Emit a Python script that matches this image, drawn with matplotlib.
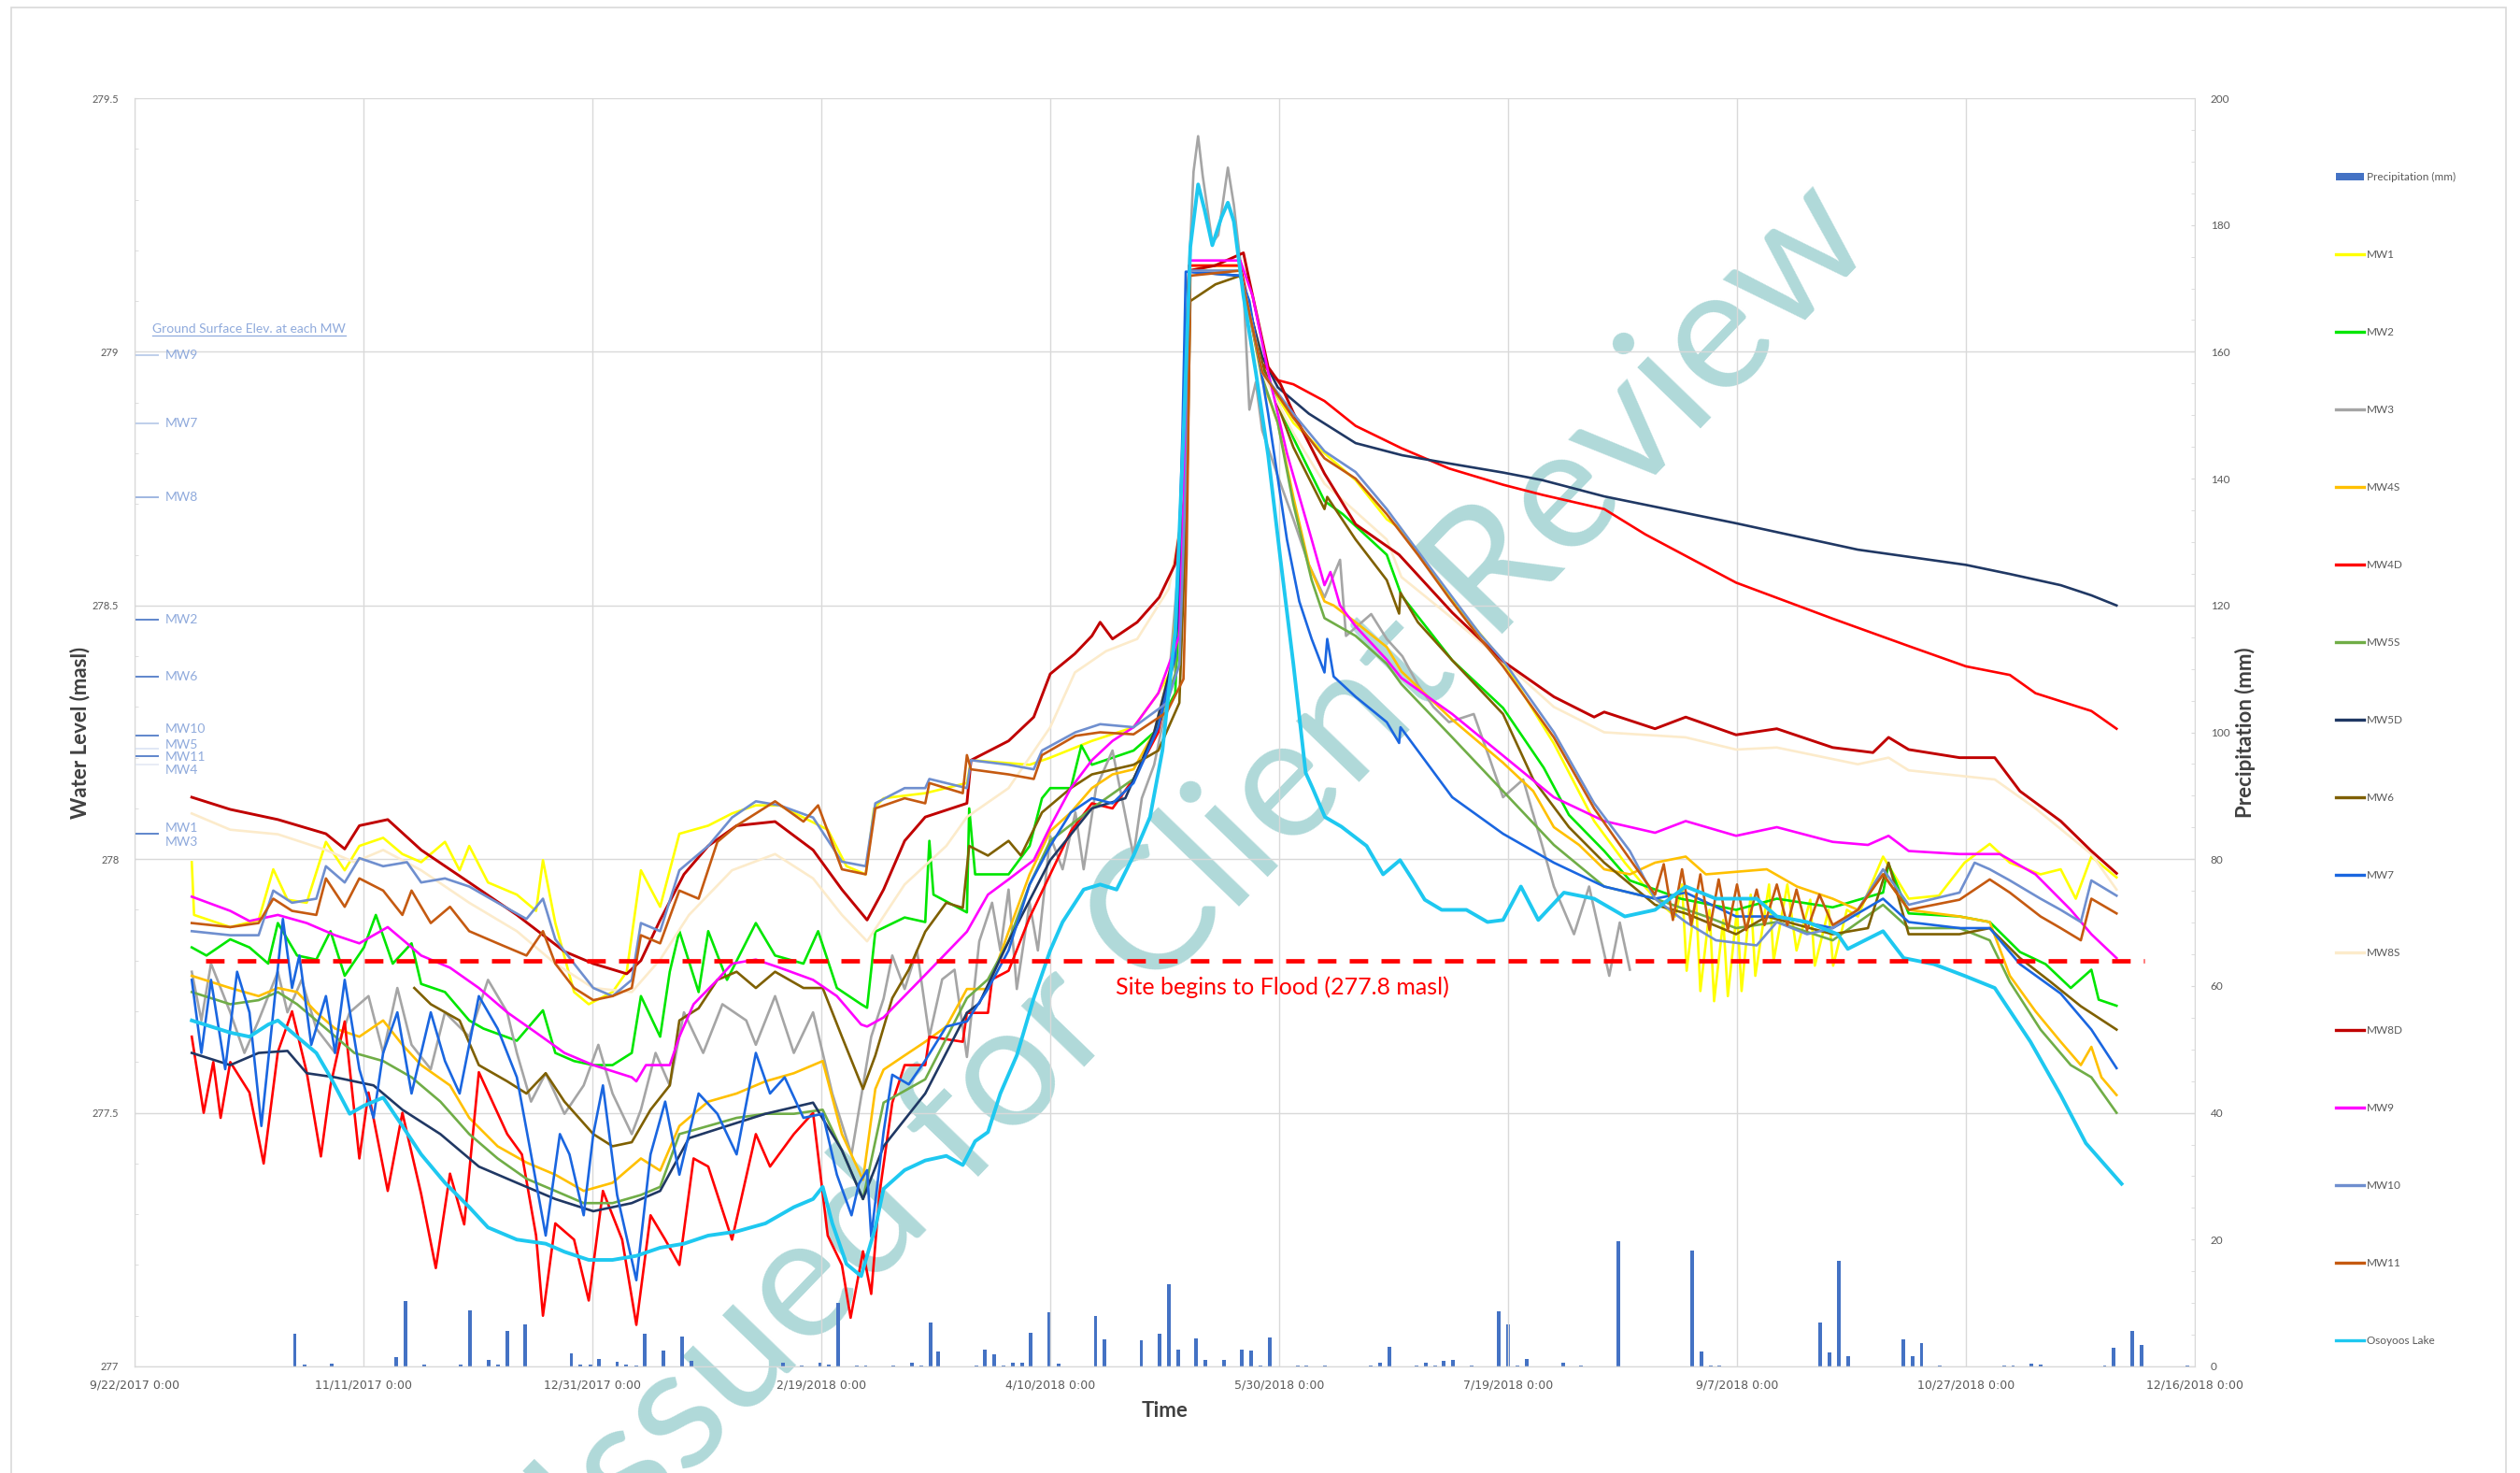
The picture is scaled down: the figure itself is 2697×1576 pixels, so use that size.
import numpy as np
import pandas as pd
import matplotlib
matplotlib.use("Agg")
import matplotlib.pyplot as plt
from matplotlib.patches import Patch, Rectangle
from matplotlib.lines import Line2D
from matplotlib.ticker import MultipleLocator, FuncFormatter

plt.rcParams["font.family"] = ["Lato", "DejaVu Sans"]

START = pd.Timestamp("2017-09-22")

# ── Data: (days since 9/22/2017, water level masl) ────────────────────────────
mw1 = [(12.5, 277.994), (13.0, 277.89), (20.9, 277.866), (27.1, 277.88), (30.3, 277.98), (33.4, 277.92),
       (37.6, 277.914), (41.8, 278.034), (45.9, 277.978), (49.1, 278.026), (54.3, 278.042), (58.5, 278.01),
       (62.6, 277.994), (67.8, 278.034), (71.0, 277.978), (73.1, 278.026), (77.2, 277.954), (83.5, 277.93),
       (87.7, 277.898), (89.2, 277.998), (91.9, 277.874), (96.0, 277.738), (99.2, 277.714), (104.4, 277.738),
       (107.5, 277.778), (110.6, 277.978), (114.8, 277.906), (119.0, 278.05), (125.3, 278.066), (130.5, 278.09),
       (135.7, 278.106), (140.9, 278.106), (146.1, 278.082), (151.4, 278.058), (155.5, 277.986), (159.7, 277.97),
       (161.5, 278.10), (163.6, 278.12), (172.7, 278.13), (181.8, 278.15), (182.7, 278.195), (195.5, 278.186),
       (200.0, 278.2), (209.1, 278.233), (218.2, 278.26), (223.6, 278.327), (228.2, 278.40), (229.6, 278.75),
       (230.3, 279.16), (236.0, 279.17), (241.5, 279.17), (246.3, 278.96), (253.1, 278.86), (259.9, 278.80),
       (266.7, 278.747), (273.5, 278.67), (276.7, 278.65), (287.8, 278.51), (298.9, 278.39), (310.0, 278.228),
       (318.8, 278.075), (325.5, 277.993), (332.1, 277.922), (336.5, 277.887), (338.0, 277.95), (339.0, 277.78),
       (341.0, 277.93), (342.0, 277.74), (344.0, 277.90), (345.0, 277.72), (347.0, 277.88), (348.0, 277.73),
       (350.0, 277.90), (351.0, 277.74), (353.0, 277.93), (354.0, 277.77), (357.0, 277.95), (358.0, 277.80),
       (361.0, 277.95), (363.0, 277.82), (366.0, 277.92), (367.0, 277.79), (370.0, 277.90), (371.0, 277.79),
       (374.0, 277.90), (376.4, 277.887), (381.9, 278.005), (387.5, 277.922), (394.1, 277.928), (399.7, 277.993),
       (405.2, 278.03), (409.6, 277.993), (416.3, 277.97), (420.7, 277.98), (424.0, 277.922), (427.4, 278.005),
       (432.9, 277.964)]

mw2 = [(12.5, 277.826), (15.7, 277.81), (20.9, 277.842), (25.1, 277.826), (29.2, 277.794), (31.3, 277.874),
       (35.5, 277.81), (39.7, 277.802), (42.8, 277.858), (45.9, 277.77), (50.1, 277.826), (52.7, 277.89),
       (56.4, 277.794), (60.5, 277.834), (62.6, 277.754), (67.8, 277.738), (73.1, 277.682), (76.2, 277.666),
       (83.5, 277.642), (89.2, 277.702), (91.9, 277.618), (96.0, 277.602), (100.2, 277.594), (104.4, 277.594),
       (108.6, 277.618), (110.6, 277.73), (114.8, 277.65), (116.9, 277.778), (119.0, 277.858), (123.2, 277.738),
       (125.3, 277.858), (129.4, 277.762), (135.7, 277.874), (139.9, 277.81), (146.1, 277.794), (149.3, 277.858),
       (153.4, 277.746), (158.7, 277.714), (160.0, 277.707), (161.8, 277.857), (168.2, 277.885), (172.7, 277.876),
       (173.6, 278.036), (174.5, 277.93), (181.8, 277.895), (182.3, 278.10), (183.6, 277.97), (190.9, 277.97),
       (195.5, 278.026), (198.2, 278.12), (200.0, 278.14), (204.5, 278.14), (206.8, 278.224), (209.1, 278.186),
       (218.2, 278.214), (222.7, 278.25), (227.3, 278.327), (229.6, 278.80), (230.3, 279.16), (241.5, 279.16),
       (246.3, 278.97), (253.1, 278.83), (259.9, 278.706), (263.9, 278.68), (273.5, 278.60), (276.7, 278.52),
       (287.8, 278.392), (298.9, 278.298), (307.8, 278.18), (313.3, 278.087), (321.0, 278.016), (326.6, 277.958),
       (337.7, 277.922), (349.8, 277.90), (358.7, 277.922), (370.9, 277.905), (381.9, 277.934), (383.1, 277.99),
       (387.5, 277.893), (398.6, 277.887), (405.2, 277.876), (411.8, 277.817), (417.4, 277.793), (422.9, 277.746),
       (427.4, 277.782), (429.0, 277.723), (432.9, 277.711)]

mw3 = [(12.5, 277.778), (14.6, 277.682), (16.7, 277.794), (20.9, 277.698), (24.0, 277.618), (27.1, 277.682),
       (31.3, 277.778), (33.4, 277.698), (36.5, 277.762), (39.7, 277.666), (43.8, 277.618), (47.0, 277.698),
       (51.1, 277.73), (54.3, 277.618), (57.4, 277.746), (60.5, 277.634), (64.7, 277.586), (67.8, 277.698),
       (73.1, 277.65), (77.2, 277.762), (81.4, 277.698), (83.5, 277.618), (86.6, 277.522), (89.8, 277.578),
       (93.9, 277.498), (98.1, 277.554), (101.3, 277.634), (104.4, 277.538), (108.6, 277.458), (110.6, 277.506),
       (113.8, 277.618), (116.9, 277.554), (120.0, 277.698), (124.2, 277.618), (128.4, 277.714), (133.6, 277.682),
       (135.7, 277.634), (139.9, 277.73), (144.0, 277.618), (148.2, 277.698), (152.4, 277.538), (156.6, 277.418),
       (160.9, 277.65), (163.6, 277.725), (165.5, 277.81), (168.2, 277.744), (170.9, 277.82), (173.6, 277.65),
       (176.4, 277.763), (179.1, 277.782), (181.8, 277.61), (184.5, 277.838), (187.3, 277.914), (189.1, 277.82),
       (190.9, 277.94), (192.7, 277.744), (195.5, 277.914), (197.3, 277.82), (200.0, 278.045), (202.7, 277.98),
       (205.5, 278.092), (207.3, 277.98), (210.0, 278.14), (213.6, 278.214), (217.3, 278.045), (218.2, 278.007),
       (220.0, 278.12), (222.7, 278.186), (225.5, 278.308), (228.2, 278.6), (230.0, 279.1), (231.3, 279.355),
       (232.3, 279.425), (233.3, 279.347), (235.4, 279.215), (236.7, 279.23), (238.8, 279.363), (240.1, 279.29),
       (242.2, 279.125), (243.5, 278.886), (244.9, 278.94), (246.3, 278.845), (249.7, 278.755), (253.1, 278.67),
       (256.5, 278.58), (259.9, 278.516), (263.3, 278.59), (264.6, 278.44), (270.1, 278.483), (273.5, 278.434),
       (276.9, 278.4), (280.3, 278.344), (283.7, 278.3), (287.1, 278.27), (292.5, 278.286), (295.9, 278.2),
       (298.9, 278.122), (303.3, 278.157), (307.8, 278.016), (310.0, 277.946), (314.4, 277.852), (317.7, 277.946),
       (322.1, 277.77), (324.4, 277.875), (326.6, 277.782)]

mw4s = [(12.5, 277.77), (20.9, 277.746), (27.1, 277.73), (31.3, 277.746), (35.5, 277.738), (39.7, 277.698),
        (43.8, 277.666), (49.1, 277.65), (54.3, 277.682), (58.5, 277.634), (62.6, 277.594), (68.9, 277.554),
        (73.1, 277.49), (79.3, 277.434), (85.6, 277.402), (91.9, 277.378), (98.1, 277.346), (104.4, 277.362),
        (110.6, 277.41), (114.8, 277.386), (119.0, 277.474), (125.3, 277.522), (131.5, 277.538), (137.8, 277.562),
        (144.0, 277.578), (150.3, 277.602), (154.5, 277.458), (159.1, 277.368), (161.8, 277.547), (163.6, 277.585),
        (168.2, 277.613), (172.7, 277.64), (177.3, 277.67), (181.8, 277.744), (186.4, 277.744), (190.9, 277.857),
        (195.5, 277.97), (200.0, 278.055), (204.5, 278.092), (209.1, 278.14), (213.6, 278.167), (218.2, 278.177),
        (222.7, 278.25), (226.4, 278.383), (228.5, 278.6), (229.8, 279.0), (230.5, 279.17), (241.5, 279.17),
        (246.3, 278.944), (249.7, 278.86), (253.1, 278.714), (256.5, 278.58), (259.9, 278.508), (261.9, 278.5),
        (266.7, 278.467), (273.5, 278.418), (276.7, 278.37), (287.8, 278.275), (298.9, 278.19), (305.5, 278.134),
        (310.0, 278.063), (315.5, 278.028), (321.0, 277.98), (326.6, 277.97), (332.1, 277.993), (338.8, 278.005),
        (343.2, 277.97), (349.8, 277.975), (356.5, 277.98), (363.1, 277.946), (370.9, 277.922), (376.4, 277.9),
        (381.9, 277.97), (387.5, 277.9), (398.6, 277.887), (405.2, 277.876), (409.6, 277.77), (415.2, 277.7),
        (420.7, 277.64), (425.1, 277.594), (427.4, 277.63), (429.6, 277.57), (432.9, 277.535)]

mw4d = [(12.5, 277.65), (15.1, 277.5), (17.2, 277.6), (18.8, 277.49), (20.9, 277.6), (25.1, 277.54),
        (28.2, 277.4), (31.3, 277.62), (34.4, 277.7), (37.6, 277.58), (40.7, 277.414), (42.8, 277.554),
        (45.9, 277.68), (49.1, 277.41), (51.1, 277.54), (55.3, 277.346), (58.5, 277.5), (62.6, 277.34),
        (65.8, 277.194), (68.9, 277.38), (72.0, 277.28), (75.2, 277.58), (81.4, 277.458), (84.6, 277.418),
        (87.7, 277.258), (89.2, 277.1), (91.9, 277.282), (96.0, 277.25), (99.2, 277.13), (102.3, 277.346),
        (106.5, 277.25), (109.6, 277.082), (112.7, 277.298), (115.9, 277.25), (119.0, 277.2), (122.1, 277.41),
        (125.3, 277.394), (130.5, 277.25), (135.7, 277.458), (138.8, 277.394), (144.0, 277.458), (148.2, 277.5),
        (151.4, 277.258), (154.5, 277.2), (156.4, 277.096), (159.1, 277.227), (160.9, 277.143), (162.7, 277.34),
        (165.5, 277.52), (168.2, 277.594), (172.7, 277.594), (173.6, 277.65), (180.9, 277.64), (181.8, 277.697),
        (186.4, 277.697), (187.3, 277.763), (190.9, 277.78), (195.5, 277.885), (200.0, 277.97), (204.5, 278.055),
        (209.1, 278.11), (213.6, 278.1), (218.2, 278.158), (223.6, 278.25), (227.3, 278.42), (229.3, 278.9),
        (230.3, 279.17), (241.5, 279.17), (246.3, 278.977), (249.7, 278.944), (253.1, 278.936), (259.9, 278.903),
        (266.7, 278.854), (276.7, 278.81), (287.1, 278.77), (298.9, 278.738), (307.5, 278.718), (321.0, 278.69),
        (330.0, 278.64), (349.8, 278.545), (370.9, 278.474), (387.5, 278.42), (400.0, 278.38), (409.6, 278.363),
        (415.2, 278.327), (427.4, 278.292), (432.9, 278.257)]

mw5s = [(12.5, 277.738), (20.9, 277.714), (27.1, 277.722), (31.3, 277.738), (35.5, 277.714), (41.8, 277.666),
        (48.0, 277.618), (54.3, 277.602), (60.5, 277.57), (66.8, 277.522), (73.1, 277.458), (79.3, 277.41),
        (85.6, 277.37), (91.9, 277.346), (98.1, 277.322), (104.4, 277.322), (110.6, 277.338), (114.8, 277.354),
        (119.0, 277.458), (125.3, 277.474), (131.5, 277.49), (137.8, 277.498), (144.0, 277.498), (150.3, 277.506),
        (154.5, 277.426), (159.1, 277.33), (163.6, 277.52), (172.7, 277.566), (181.8, 277.726), (186.4, 277.763),
        (190.9, 277.838), (195.5, 277.95), (200.0, 278.036), (209.1, 278.1), (218.2, 278.158), (222.7, 278.243),
        (227.3, 278.365), (229.3, 278.8), (230.3, 279.16), (241.5, 279.16), (246.3, 278.95), (249.7, 278.86),
        (253.1, 278.70), (257.1, 278.55), (259.9, 278.475), (266.7, 278.44), (273.5, 278.385), (276.7, 278.345),
        (287.8, 278.24), (298.9, 278.134), (310.0, 278.028), (321.0, 277.946), (332.1, 277.922), (343.2, 277.887),
        (349.8, 277.864), (358.7, 277.876), (370.9, 277.84), (381.9, 277.91), (387.5, 277.864), (398.6, 277.864),
        (405.2, 277.84), (409.6, 277.758), (416.3, 277.664), (422.9, 277.594), (427.4, 277.57), (432.9, 277.5)]

mw5d = [(12.5, 277.618), (20.9, 277.594), (27.1, 277.618), (33.4, 277.622), (37.6, 277.578), (43.8, 277.57),
        (52.2, 277.554), (58.5, 277.506), (66.8, 277.458), (75.2, 277.394), (83.5, 277.362), (91.9, 277.33),
        (100.2, 277.306), (108.6, 277.322), (114.8, 277.346), (121.1, 277.45), (129.4, 277.474), (137.8, 277.498),
        (148.2, 277.52), (154.5, 277.426), (159.1, 277.33), (163.6, 277.434), (172.7, 277.538), (181.8, 277.697),
        (184.5, 277.716), (190.9, 277.838), (200.0, 277.998), (209.1, 278.1), (216.4, 278.12), (222.7, 278.25),
        (226.4, 278.38), (227.9, 278.467), (229.3, 278.878), (230.3, 279.158), (241.5, 279.15), (246.3, 278.99),
        (249.7, 278.93), (256.5, 278.878), (266.7, 278.82), (276.9, 278.796), (287.1, 278.78), (298.9, 278.762),
        (307.5, 278.747), (321.0, 278.715), (349.8, 278.662), (376.4, 278.61), (400.0, 278.58), (409.6, 278.562),
        (420.7, 278.54), (427.4, 278.52), (432.9, 278.5)]

mw6 = [(61.1, 277.746), (64.7, 277.714), (71.0, 277.682), (75.2, 277.594), (81.4, 277.562), (85.6, 277.538),
       (89.8, 277.578), (93.9, 277.522), (100.2, 277.458), (104.4, 277.434), (108.6, 277.442), (112.7, 277.506),
       (116.9, 277.554), (119.0, 277.682), (123.2, 277.706), (127.3, 277.762), (131.5, 277.778), (135.7, 277.746),
       (139.9, 277.778), (146.1, 277.746), (150.3, 277.746), (154.5, 277.65), (159.1, 277.547), (161.8, 277.613),
       (165.5, 277.726), (169.1, 277.782), (172.7, 277.857), (177.3, 277.914), (180.9, 277.904), (182.3, 278.026),
       (186.4, 278.007), (190.9, 278.036), (193.6, 278.007), (198.2, 278.092), (204.5, 278.14), (209.1, 278.167),
       (218.2, 278.186), (223.6, 278.214), (228.2, 278.308), (229.8, 278.7), (230.6, 279.1), (236.1, 279.133),
       (241.5, 279.15), (246.3, 278.977), (249.7, 278.895), (253.1, 278.812), (259.9, 278.69), (260.5, 278.714),
       (266.7, 278.63), (273.5, 278.55), (276.2, 278.484), (276.5, 278.525), (280.3, 278.467), (287.8, 278.392),
       (298.9, 278.286), (305.5, 278.157), (313.3, 278.063), (321.0, 277.993), (332.1, 277.91), (338.8, 277.893),
       (349.8, 277.852), (356.5, 277.887), (370.9, 277.852), (378.6, 277.864), (383.1, 277.993), (387.5, 277.852),
       (398.6, 277.852), (405.2, 277.864), (411.8, 277.805), (418.5, 277.758), (425.1, 277.71), (432.9, 277.664)]

mw7 = [(12.5, 277.762), (14.6, 277.618), (16.7, 277.762), (19.8, 277.586), (22.4, 277.778), (25.1, 277.698),
       (27.7, 277.474), (30.3, 277.698), (32.4, 277.882), (34.4, 277.746), (36.0, 277.81), (38.6, 277.634),
       (41.8, 277.73), (43.8, 277.618), (45.9, 277.762), (49.1, 277.586), (52.2, 277.49), (54.3, 277.618),
       (57.4, 277.698), (60.5, 277.538), (64.7, 277.698), (67.8, 277.602), (71.0, 277.538), (75.2, 277.73),
       (79.3, 277.666), (83.5, 277.57), (86.6, 277.418), (89.8, 277.258), (92.9, 277.458), (95.0, 277.418),
       (98.1, 277.298), (100.2, 277.458), (102.3, 277.554), (105.4, 277.338), (109.6, 277.17), (112.7, 277.418),
       (115.9, 277.522), (119.0, 277.378), (123.2, 277.538), (127.3, 277.498), (131.5, 277.418), (135.7, 277.618),
       (138.8, 277.538), (142.0, 277.57), (146.1, 277.49), (150.3, 277.498), (153.4, 277.378), (156.6, 277.298),
       (158.2, 277.36), (160.0, 277.387), (160.9, 277.256), (163.6, 277.462), (165.5, 277.575), (169.1, 277.556),
       (172.7, 277.603), (177.3, 277.67), (181.8, 277.68), (186.4, 277.744), (190.9, 277.82), (195.5, 277.95),
       (200.0, 278.026), (204.5, 278.092), (209.1, 278.12), (213.6, 278.11), (218.2, 278.15), (223.6, 278.26),
       (227.3, 278.4), (227.9, 278.533), (228.9, 278.85), (229.6, 279.158), (241.5, 279.15), (243.5, 279.1),
       (247.6, 278.878), (251.7, 278.63), (254.4, 278.508), (257.1, 278.434), (259.9, 278.368), (260.5, 278.434),
       (261.9, 278.36), (266.7, 278.32), (273.5, 278.27), (276.2, 278.229), (276.5, 278.26), (287.8, 278.122),
       (298.9, 278.05), (310.0, 277.993), (321.0, 277.946), (332.1, 277.922), (338.8, 277.934), (349.8, 277.887),
       (358.7, 277.887), (370.9, 277.864), (381.9, 277.922), (387.5, 277.876), (398.6, 277.864), (405.2, 277.864),
       (411.8, 277.793), (420.7, 277.735), (427.4, 277.664), (432.9, 277.588)]

mw8s = [(12.5, 278.09), (20.9, 278.058), (31.3, 278.049), (41.8, 278.018), (48.0, 277.994), (54.3, 278.018),
        (62.6, 277.978), (73.1, 277.914), (83.5, 277.858), (91.9, 277.794), (100.2, 277.746), (108.6, 277.738),
        (114.8, 277.802), (121.1, 277.89), (130.5, 277.978), (139.9, 278.01), (148.2, 277.962), (154.5, 277.89),
        (160.0, 277.838), (168.2, 277.95), (177.3, 278.026), (181.8, 278.083), (190.9, 278.14), (200.0, 278.26),
        (205.4, 278.368), (212.2, 278.41), (219.0, 278.434), (225.9, 278.533), (228.6, 278.67), (229.8, 279.0),
        (230.6, 279.16), (241.5, 279.16), (246.3, 278.96), (253.1, 278.84), (259.9, 278.74), (273.5, 278.63),
        (276.7, 278.556), (287.1, 278.48), (298.9, 278.39), (310.0, 278.3), (321.0, 278.25), (338.8, 278.24),
        (349.8, 278.216), (358.7, 278.22), (376.4, 278.187), (383.1, 278.2), (387.5, 278.175), (406.3, 278.157),
        (415.2, 278.1), (427.4, 278.01), (432.9, 277.94)]

mw8d = [(12.5, 278.122), (20.9, 278.098), (31.3, 278.078), (41.8, 278.05), (45.9, 278.02), (49.1, 278.066),
        (55.3, 278.078), (62.6, 278.018), (73.1, 277.954), (83.5, 277.89), (93.9, 277.818), (100.2, 277.794),
        (107.5, 277.774), (110.6, 277.8), (114.8, 277.88), (120.0, 277.97), (125.3, 278.026), (131.5, 278.066),
        (139.9, 278.074), (148.2, 278.018), (154.5, 277.94), (160.0, 277.88), (163.6, 277.94), (168.2, 278.036),
        (172.7, 278.083), (181.8, 278.11), (182.7, 278.195), (190.9, 278.233), (196.4, 278.28), (200.0, 278.365),
        (205.4, 278.405), (209.1, 278.44), (210.9, 278.467), (213.6, 278.434), (219.0, 278.467), (223.8, 278.516),
        (227.2, 278.58), (229.3, 278.71), (230.3, 279.16), (236.0, 279.17), (242.2, 279.195), (243.5, 279.14),
        (247.6, 278.97), (250.3, 278.936), (253.1, 278.88), (259.9, 278.76), (266.7, 278.66), (276.2, 278.6),
        (287.8, 278.486), (298.9, 278.39), (310.0, 278.32), (318.8, 278.28), (321.0, 278.29), (332.1, 278.257),
        (338.8, 278.28), (349.8, 278.245), (358.7, 278.257), (370.9, 278.22), (379.7, 278.21), (383.1, 278.24),
        (387.5, 278.216), (398.6, 278.2), (406.3, 278.2), (411.8, 278.134), (420.7, 278.075), (427.4, 278.016),
        (432.9, 277.972)]

mw9 = [(12.5, 277.926), (20.9, 277.898), (25.1, 277.878), (31.3, 277.89), (37.6, 277.874), (43.8, 277.85),
       (49.1, 277.834), (55.3, 277.866), (59.5, 277.834), (62.6, 277.81), (68.9, 277.786), (75.2, 277.746),
       (81.4, 277.698), (87.7, 277.658), (93.9, 277.618), (100.2, 277.594), (108.6, 277.57), (109.6, 277.562),
       (111.7, 277.594), (116.9, 277.594), (119.0, 277.65), (122.1, 277.714), (127.3, 277.762), (130.5, 277.794),
       (135.7, 277.802), (140.9, 277.786), (148.2, 277.762), (153.4, 277.73), (158.7, 277.674), (160.0, 277.67),
       (163.6, 277.688), (172.7, 277.772), (181.8, 277.857), (186.4, 277.93), (190.9, 277.96), (196.4, 277.998),
       (200.0, 278.064), (204.5, 278.14), (209.1, 278.195), (213.6, 278.233), (218.2, 278.26), (223.6, 278.327),
       (228.2, 278.44), (229.8, 278.9), (230.5, 279.18), (241.5, 279.18), (244.2, 279.11), (247.6, 278.96),
       (251.7, 278.8), (257.1, 278.63), (259.9, 278.54), (261.2, 278.566), (263.3, 278.5), (266.7, 278.459),
       (273.5, 278.393), (276.7, 278.357), (287.8, 278.286), (298.9, 278.204), (310.0, 278.122), (321.0, 278.075),
       (332.1, 278.052), (338.8, 278.075), (349.8, 278.046), (358.7, 278.063), (370.9, 278.034), (378.6, 278.028),
       (383.1, 278.046), (387.5, 278.016), (398.6, 278.01), (407.4, 278.01), (415.2, 277.97), (422.9, 277.9),
       (427.4, 277.852), (432.9, 277.805)]

mw10 = [(12.5, 277.858), (20.9, 277.85), (27.1, 277.85), (30.3, 277.938), (34.4, 277.914), (39.7, 277.922),
        (41.8, 277.986), (45.9, 277.954), (49.1, 278.002), (54.3, 277.986), (59.5, 277.994), (62.6, 277.954),
        (67.8, 277.962), (73.1, 277.946), (79.3, 277.914), (85.6, 277.882), (89.2, 277.922), (91.9, 277.842),
        (96.0, 277.794), (100.2, 277.746), (104.4, 277.73), (108.6, 277.762), (110.6, 277.874), (114.8, 277.858),
        (119.0, 277.978), (125.3, 278.026), (130.5, 278.082), (135.7, 278.114), (140.9, 278.106), (148.2, 278.082),
        (154.5, 277.995), (159.7, 277.986), (161.8, 278.11), (168.2, 278.14), (172.7, 278.14), (173.6, 278.158),
        (181.8, 278.14), (182.7, 278.195), (190.9, 278.186), (196.4, 278.177), (198.2, 278.214), (205.5, 278.25),
        (210.9, 278.266), (218.2, 278.26), (225.5, 278.308), (228.2, 278.383), (229.8, 278.8), (230.6, 279.16),
        (241.5, 279.16), (246.3, 278.96), (253.1, 278.878), (259.9, 278.804), (266.7, 278.763), (273.5, 278.69),
        (280.3, 278.607), (287.1, 278.525), (293.9, 278.443), (298.9, 278.392), (310.0, 278.25), (318.8, 278.11),
        (326.6, 278.016), (332.1, 277.922), (338.8, 277.876), (345.4, 277.84), (354.3, 277.83), (358.7, 277.876),
        (365.3, 277.852), (370.9, 277.864), (376.4, 277.9), (381.9, 277.98), (387.5, 277.91), (398.6, 277.934),
        (401.9, 277.993), (405.2, 277.98), (409.6, 277.958), (416.3, 277.922), (420.7, 277.9), (425.1, 277.876),
        (427.4, 277.958), (432.9, 277.928)]

mw11 = [(12.5, 277.874), (20.9, 277.866), (27.1, 277.874), (30.3, 277.922), (34.4, 277.898), (39.7, 277.89),
        (41.8, 277.962), (45.9, 277.906), (49.1, 277.962), (54.3, 277.938), (58.5, 277.89), (60.5, 277.938),
        (64.7, 277.874), (68.9, 277.906), (73.1, 277.858), (79.3, 277.834), (85.6, 277.81), (89.2, 277.858),
        (91.9, 277.794), (96.0, 277.746), (100.2, 277.722), (104.4, 277.73), (108.6, 277.746), (110.6, 277.85),
        (114.8, 277.834), (119.0, 277.938), (123.2, 277.922), (127.3, 278.034), (131.5, 278.066), (135.7, 278.09),
        (139.9, 278.114), (146.1, 278.074), (149.3, 278.106), (154.5, 277.98), (159.7, 277.97), (161.8, 278.1),
        (168.2, 278.12), (172.7, 278.11), (173.6, 278.15), (180.9, 278.13), (181.8, 278.205), (182.7, 278.177),
        (190.9, 278.167), (196.4, 278.158), (198.2, 278.205), (205.5, 278.243), (210.9, 278.25), (218.2, 278.246),
        (225.5, 278.29), (229.1, 278.355), (229.8, 278.6), (230.6, 279.15), (241.5, 279.16), (246.3, 278.96),
        (253.1, 278.87), (259.9, 278.79), (266.7, 278.75), (273.5, 278.68), (280.3, 278.6), (287.1, 278.515),
        (293.9, 278.435), (298.9, 278.38), (310.0, 278.24), (318.8, 278.1), (326.6, 278.0), (332.1, 277.93),
        (334.0, 277.99), (336.0, 277.88), (338.0, 277.98), (340.0, 277.87), (342.0, 277.97), (344.0, 277.86),
        (346.0, 277.96), (348.0, 277.86), (350.0, 277.95), (352.0, 277.86), (354.3, 277.94), (356.0, 277.87),
        (358.7, 277.95), (361.0, 277.87), (363.0, 277.94), (365.3, 277.86), (368.0, 277.93), (370.9, 277.87),
        (376.4, 277.9), (381.9, 277.97), (387.5, 277.9), (398.6, 277.92), (405.2, 277.96), (409.6, 277.934),
        (416.3, 277.887), (420.7, 277.864), (425.1, 277.84), (427.4, 277.922), (432.9, 277.893)]

lake = [(12.5, 277.682), (20.9, 277.658), (25.1, 277.65), (29.2, 277.674), (31.3, 277.682), (35.5, 277.65),
        (39.7, 277.618), (42.8, 277.57), (47.0, 277.498), (50.1, 277.514), (54.3, 277.53), (58.5, 277.474),
        (62.6, 277.418), (67.8, 277.362), (73.1, 277.314), (77.2, 277.274), (83.5, 277.25), (89.8, 277.242),
        (93.9, 277.226), (99.2, 277.21), (104.4, 277.21), (109.6, 277.218), (114.8, 277.234), (120.0, 277.242),
        (125.3, 277.258), (131.5, 277.266), (137.8, 277.282), (144.0, 277.314), (148.2, 277.33), (150.3, 277.354),
        (152.4, 277.282), (155.5, 277.202), (158.7, 277.178), (161.8, 277.274), (163.6, 277.35), (168.2, 277.387),
        (172.7, 277.406), (177.3, 277.415), (180.9, 277.397), (183.6, 277.444), (186.4, 277.462), (189.1, 277.538),
        (192.7, 277.613), (196.4, 277.726), (200.0, 277.82), (202.7, 277.876), (207.3, 277.94), (210.9, 277.95),
        (214.5, 277.94), (218.2, 278.007), (221.8, 278.083), (224.5, 278.214), (227.3, 278.45), (229.3, 278.878),
        (230.6, 279.207), (232.3, 279.33), (233.7, 279.28), (235.4, 279.21), (237.4, 279.265), (238.8, 279.294),
        (240.1, 279.257), (242.2, 279.11), (244.9, 278.96), (247.6, 278.796), (250.3, 278.59), (253.1, 278.385),
        (255.8, 278.17), (257.3, 278.14), (260.0, 278.083), (263.6, 278.064), (269.1, 278.026), (272.7, 277.97),
        (276.4, 277.998), (279.1, 277.96), (281.8, 277.92), (285.5, 277.9), (290.9, 277.9), (295.5, 277.876),
        (298.9, 277.88), (302.8, 277.946), (306.6, 277.88), (312.2, 277.934), (318.8, 277.922), (325.5, 277.887),
        (332.1, 277.9), (338.8, 277.946), (345.4, 277.922), (354.3, 277.922), (358.7, 277.887), (365.3, 277.876),
        (372.0, 277.852), (374.2, 277.823), (381.9, 277.858), (386.4, 277.805), (393.0, 277.793), (399.7, 277.77),
        (406.3, 277.746), (414.1, 277.64), (420.7, 277.535), (426.2, 277.44), (434.0, 277.36)]

# precipitation (days since 9/22/2017, mm)
precip_day = [35.0, 37.1, 43.1, 57.2, 59.2, 63.3, 71.2, 73.3, 77.3, 79.4, 81.4, 85.3, 95.4, 97.4, 99.5,
              101.4, 105.4, 107.4, 109.5, 111.4, 115.5, 119.5, 121.6, 141.6, 145.7, 149.7, 151.7, 153.7,
              157.7, 159.7, 165.7, 169.8, 171.8, 173.9, 175.6, 183.8, 185.8, 187.8, 189.8, 191.8, 193.8,
              195.8, 199.8, 201.9, 209.9, 211.9, 219.9, 223.9, 225.9, 227.9, 231.9, 233.9, 237.9, 241.9,
              243.9, 245.9, 248.0, 254.0, 256.0, 260.0, 270.0, 272.0, 274.0, 280.0, 282.0, 284.0, 286.0,
              288.0, 292.0, 298.0, 300.0, 302.0, 304.0, 312.0, 316.0, 324.1, 340.2, 342.2, 344.2, 346.2,
              368.2, 370.2, 372.2, 374.2, 386.3, 388.3, 390.3, 394.3, 408.3, 410.3, 414.3, 416.3, 430.3,
              432.3, 436.4, 438.4, 448.4]
precip_mm = [5.1, 0.3, 0.5, 1.5, 10.3, 0.3, 0.3, 8.9, 1.0, 0.3, 5.6, 6.7, 2.1, 0.3, 0.3,
             1.2, 0.7, 0.35, 0.2, 5.1, 2.5, 4.7, 0.9, 0.6, 0.2, 0.6, 0.3, 10.0,
             0.2, 0.2, 0.2, 0.6, 0.2, 7.0, 2.4, 0.2, 2.7, 1.9, 0.2, 0.6, 0.6,
             5.3, 8.6, 0.4, 8.0, 4.3, 4.2, 5.2, 12.9, 2.6, 4.4, 1.0, 1.1, 2.7,
             2.5, 0.2, 4.5, 0.2, 0.2, 0.2, 0.2, 0.6, 3.1, 0.2, 0.6, 0.2, 0.9,
             1.0, 0.2, 8.7, 6.7, 0.2, 1.2, 0.6, 0.2, 19.8, 18.3, 2.4, 0.2, 0.2,
             7.0, 2.2, 16.7, 1.6, 4.3, 1.6, 3.7, 0.2, 0.2, 0.2, 0.4, 0.3, 0.2,
             2.9, 5.6, 3.4, 0.2]

# ground surface elevation at each monitoring well (masl)
gs_names = ["MW9", "MW7", "MW8", "MW2", "MW6", "MW10", "MW5", "MW11", "MW4", "MW1"]
gs_elev = [278.993, 278.858, 278.713, 278.472, 278.36, 278.244, 278.218, 278.203, 278.187, 278.05]
gs_label_y = [278.993, 278.858, 278.713, 278.472, 278.36, 278.256, 278.226, 278.201, 278.176, 278.062]
gs_colors = ["#B4C7E7", "#B4C7E7", "#8FAADC", "#4472C4", "#4472C4", "#4472C4", "#DAE3F3", "#4472C4",
             "#E4E9F4", "#4472C4"]

FLOOD_LEVEL = 277.8
flood_days = [15.5, 439.0]

series = [
    ("MW1", mw1, "#FFFF00", 1.9),
    ("MW2", mw2, "#00E600", 1.9),
    ("MW3", mw3, "#A5A5A5", 1.9),
    ("MW4S", mw4s, "#FFC000", 1.9),
    ("MW4D", mw4d, "#FF0000", 1.9),
    ("MW5S", mw5s, "#70AD47", 1.9),
    ("MW5D", mw5d, "#203864", 1.9),
    ("MW6", mw6, "#7F6000", 1.9),
    ("MW7", mw7, "#1A66E0", 1.9),
    ("MW8S", mw8s, "#FCEBCB", 1.9),
    ("MW8D", mw8d, "#C00000", 2.1),
    ("MW9", mw9, "#FF00FF", 1.9),
    ("MW10", mw10, "#6F8FCF", 1.9),
    ("MW11", mw11, "#C55A11", 1.9),
    ("Osoyoos Lake", lake, "#1EC8F0", 2.8),
]

# ── Figure ────────────────────────────────────────────────────────────────────
W, H = 2697, 1576
fig = plt.figure(figsize=(W / 100, H / 100), dpi=100)
ax = fig.add_axes([144 / W, 1 - 1462 / H, (2349 - 144) / W, (1462 - 105) / H])
ax2 = ax.twinx()
ax.set_zorder(ax2.get_zorder() + 1)
ax.patch.set_visible(False)
ax2.patch.set_visible(False)

# outer chart frame
fig.add_artist(Rectangle((12 / W, -0.01), (2682 - 12) / W, 1.0 - 8 / H + 0.01, transform=fig.transFigure,
                         fill=False, edgecolor="#D9D9D9", lw=1.2))

# watermark behind the data
fig.text(0.478, 0.408, "Issued for Client Review", rotation=46, fontsize=133, color="#B0D9D9",
         ha="center", va="center", rotation_mode="anchor", zorder=-1)

# precipitation on the secondary axis
ax2.bar(precip_day, precip_mm, width=0.8, color="#4472C4", zorder=2)

for name, data, color, lw in series:
    arr = np.array(data)
    ax.plot(arr[:, 0], arr[:, 1], color=color, lw=lw, label=name, solid_joinstyle="round")

# flood level
ax.plot(flood_days, [FLOOD_LEVEL, FLOOD_LEVEL], color="#FF0000", lw=3.4, dashes=(4.2, 3.0))
ax.text(250.6, FLOOD_LEVEL - 0.052, "Site begins to Flood (277.8 masl)", color="#FF0000",
        fontsize=18, ha="center", va="center")

# ground surface markers
for name, elev, ly, c in zip(gs_names, gs_elev, gs_label_y, gs_colors):
    ax.plot([0, 5.3], [elev, elev], color=c, lw=1.2, solid_capstyle="butt")
    ax.text(6.6, ly, name, color="#8FAADC", fontsize=10, va="center", ha="left")
ax.text(6.6, 278.033, "MW3", color="#8FAADC", fontsize=10, va="center", ha="left")
gs_title = ax.text(3.9, 279.045, "Ground Surface Elev. at each MW", color="#8FAADC", fontsize=10,
                   va="center", ha="left")

# axes
ax.set_xlim(0, 450)
ax.set_ylim(277, 279.5)
ax2.set_ylim(0, 200)
ax.xaxis.set_major_locator(MultipleLocator(50))
ax.xaxis.set_major_formatter(FuncFormatter(
    lambda v, p: (lambda d: f"{d.month}/{d.day}/{d.year} 0:00")(START + pd.Timedelta(days=float(v)))))
ax.yaxis.set_major_locator(MultipleLocator(0.5))
ax.yaxis.set_minor_locator(MultipleLocator(0.1))
ax.yaxis.set_major_formatter(FuncFormatter(lambda v, p: f"{v:g}"))
ax2.yaxis.set_major_locator(MultipleLocator(20))
ax2.yaxis.set_minor_locator(MultipleLocator(5))

ax.grid(True, which="major", color="#D9D9D9", lw=1.0)
ax.tick_params(axis="x", length=0, pad=10, labelcolor="#595959")
for lbl in ax.get_xticklabels():
    lbl.set_fontfamily(["Liberation Sans Narrow", "DejaVu Sans"])
    lbl.set_fontsize(9)
ax.tick_params(axis="y", which="both", direction="in", length=3, color="#D9D9D9", labelsize=8,
               labelcolor="#595959", pad=12)
ax2.tick_params(axis="y", which="both", direction="in", length=3, color="#D9D9D9", labelsize=8.5,
                labelcolor="#595959", pad=12)

for a in (ax, ax2):
    for s in a.spines.values():
        s.set_color("#D9D9D9")
ax.spines["top"].set_visible(False)
ax2.spines["top"].set_visible(False)
ax.spines["right"].set_visible(False)

ax.set_ylabel("Water Level (masl)", fontsize=16, fontweight="bold", color="#404040", labelpad=2)
ax2.set_ylabel("Precipitation (mm)", fontsize=16, fontweight="bold", color="#404040", labelpad=4)
ax.set_xlabel("Time", fontsize=16, fontweight="bold", color="#404040", labelpad=7)

# legend
handles = [Patch(facecolor="#4472C4", edgecolor="none", label="Precipitation (mm)")]
handles += [Line2D([], [], color=c, lw=2.4, label=n) for n, _, c, _ in series]
fig.legend(handles=handles, loc="upper left", bbox_to_anchor=(2500 / W, 1 - 184 / H), frameon=False,
           fontsize=8.5, labelspacing=6.1, handlelength=2.5, handletextpad=0.3, borderpad=0,
           borderaxespad=0, labelcolor="#595959")

# underline for the ground surface caption
fig.canvas.draw()
bb = gs_title.get_window_extent()
fig.add_artist(Line2D([bb.x0 / W, bb.x1 / W], [(bb.y0 - 1) / H, (bb.y0 - 1) / H],
                      transform=fig.transFigure, color="#8FAADC", lw=0.9))

fig.savefig("out.png", dpi=100)
